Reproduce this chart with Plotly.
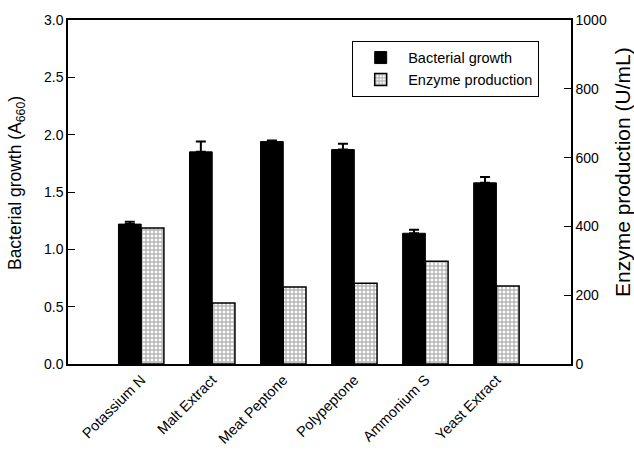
import plotly.graph_objects as go

categories = ["Potassium N", "Malt Extract", "Meat Peptone", "Polypeptone", "Ammonium S", "Yeast Extract"]
growth = [1.22, 1.85, 1.94, 1.87, 1.14, 1.58]
growth_err = [0.02, 0.09, 0.01, 0.05, 0.03, 0.05]
enzyme = [395, 177, 224, 235, 299, 227]

FONT = "Liberation Sans, Arial, sans-serif"
W = 0.32

fig = go.Figure()
fig.add_trace(go.Bar(
    x=categories, y=growth, name="Bacterial growth",
    width=W, offset=-W,
    marker=dict(color="black", line=dict(color="black", width=1)),
    error_y=dict(type="data", array=growth_err, symmetric=False, arrayminus=[0]*6,
                 color="black", thickness=2, width=5),
    yaxis="y",
))
fig.add_trace(go.Bar(
    x=categories, y=enzyme, name="Enzyme production",
    width=W, offset=0,
    marker=dict(color="white", line=dict(color="black", width=1.5),
                pattern=dict(shape="+", fgcolor="#6e6e6e", bgcolor="white", size=4, solidity=0.6)),
    yaxis="y2",
))

fig.update_layout(
    width=634, height=452,
    margin=dict(l=68, r=63, t=20, b=88),
    paper_bgcolor="white", plot_bgcolor="white",
    font=dict(family=FONT, color="black", size=14),
    showlegend=True,
    legend=dict(x=0.565, y=0.94, xanchor="left", yanchor="top",
                bordercolor="black", borderwidth=1, bgcolor="white",
                font=dict(size=14.5, family=FONT), itemwidth=45,
                tracegroupgap=0),
    xaxis=dict(type="category", range=[-1.03, 6.05], tickangle=-45, automargin=False,
               showline=True, linecolor="black", linewidth=1.5, mirror=True,
               ticks="", showgrid=False, tickfont=dict(size=14.5, family=FONT)),
    yaxis=dict(range=[0, 3.0], dtick=0.5, tickformat=".1f", automargin=False,
               showline=True, linecolor="black", linewidth=1.5,
               ticks="inside", ticklen=7, tickcolor="black", showgrid=False, zeroline=False,
               tickfont=dict(size=14, family=FONT)),
    yaxis2=dict(range=[0, 1000], dtick=200, overlaying="y", side="right", automargin=False,
                showline=True, linecolor="black", linewidth=1.5,
                ticks="inside", ticklen=7, tickcolor="black", showgrid=False, zeroline=False,
                tickfont=dict(size=14, family=FONT)),
    annotations=[
        dict(text="Bacterial growth (A<sub>660</sub>)", textangle=-90, showarrow=False,
             xref="paper", yref="paper", x=-0.1034, y=0.526, xanchor="center", yanchor="middle",
             font=dict(size=17.5, family=FONT)),
        dict(text="Enzyme production (U/mL)", textangle=-90, showarrow=False,
             xref="paper", yref="paper", x=1.1014, y=0.558, xanchor="center", yanchor="middle",
             font=dict(size=21, family=FONT)),
    ],
)

fig.write_html("out.html")
